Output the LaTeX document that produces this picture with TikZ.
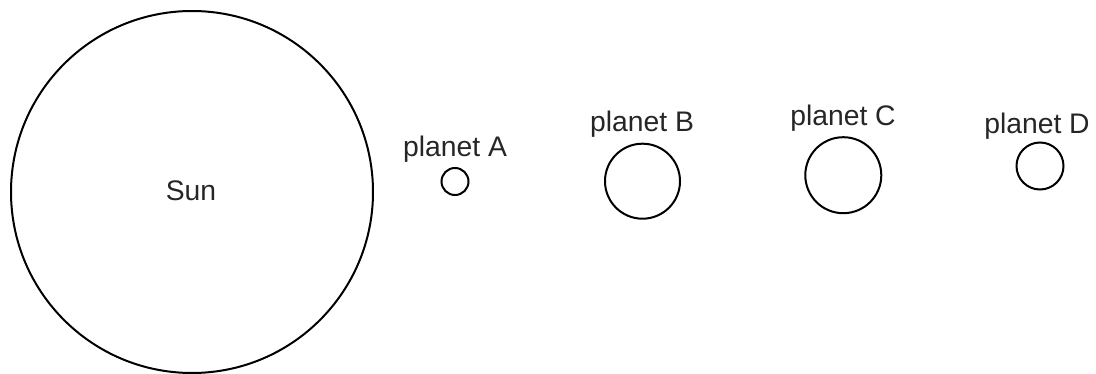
\documentclass[tikz,border=0pt]{standalone}
\usepackage{fontspec}
\setmainfont{Liberation Sans}
\begin{document}
\begin{tikzpicture}[x=1pt,y=-1pt,
  body/.style={circle,draw=black,line width=2pt,inner sep=0pt,outer sep=0pt},
  lbl/.style={anchor=base,inner sep=0pt,font=\fontsize{28.3}{34}\selectfont,text=black!85}]
\useasboundingbox (0,0) rectangle (1096,374);
\node[body,minimum size=362] (sun) at (192,192) {};
\node[lbl] (sunlbl) at (191,201) {Sun};
\node[body,minimum size=27] (pa) at (455,181.5) {};
\node[lbl] (palbl) at (455,157) {planet A};
\node[body,minimum size=75] (pb) at (642.5,181.2) {};
\node[lbl] (pblbl) at (642,131.5) {planet B};
\node[body,minimum size=76] (pc) at (843.3,175.2) {};
\node[lbl] (pclbl) at (843,126) {planet C};
\node[body,minimum size=47] (pd) at (1040,166) {};
\node[lbl] (pdlbl) at (1037,134) {planet D};
\end{tikzpicture}
\end{document}
